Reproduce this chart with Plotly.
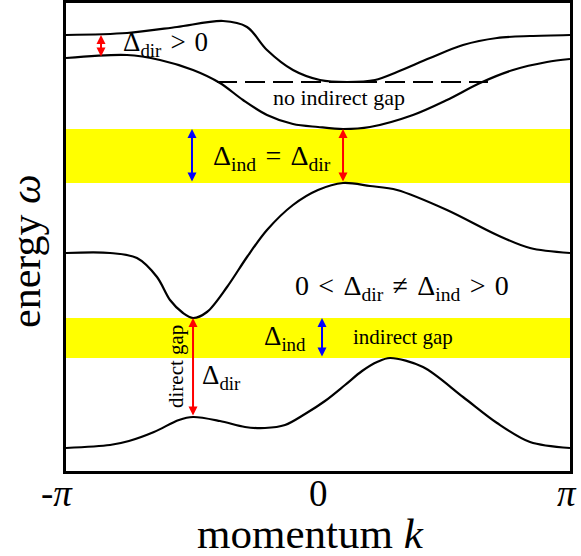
import numpy as np
import plotly.graph_objects as go

PI = np.pi

# ---- band data (momentum k, energy in arbitrary units) ----
k1 = [-3.1416, -2.381, -1.758, -1.184, -0.885, -0.636, -0.312, 0.025, 0.362, 0.711, 0.985, 1.396, 1.808, 2.232, 2.643, 3.1416]
e1 = [4.36, 4.38, 4.44, 4.50, 4.44, 4.21, 4.01, 3.91, 3.89, 3.91, 3.99, 4.13, 4.26, 4.33, 4.35, 4.36]

k2 = [-3.1416, -2.381, -1.970, -1.558, -1.222, -0.935, -0.636, -0.312, 0.0, 0.312, 0.648, 1.184, 1.608, 2.020, 2.431, 2.855, 3.1416]
e2 = [4.13, 4.16, 4.11, 4.01, 3.88, 3.71, 3.56, 3.47, 3.44, 3.42, 3.44, 3.56, 3.71, 3.88, 4.01, 4.09, 4.12]

k3 = [-3.1416, -2.593, -2.257, -2.007, -1.845, -1.683, -1.558, -1.384, -1.134, -0.885, -0.636, -0.312, 0.0, 0.312, 0.648, 0.985, 1.608, 2.232, 2.643, 3.1416]
e3 = [2.18, 2.18, 2.13, 1.94, 1.71, 1.58, 1.53, 1.59, 1.84, 2.14, 2.41, 2.66, 2.81, 2.88, 2.85, 2.81, 2.61, 2.36, 2.23, 2.18]

k4 = [-3.1416, -2.593, -2.357, -2.045, -1.733, -1.558, -1.222, -0.910, -0.661, -0.411, -0.162, 0.087, 0.337, 0.549, 0.736, 0.898, 1.309, 1.808, 2.232, 2.643, 3.1416]
e4 = [0.23, 0.26, 0.30, 0.39, 0.51, 0.54, 0.50, 0.44, 0.43, 0.46, 0.57, 0.70, 0.86, 1.00, 1.09, 1.13, 1.04, 0.74, 0.48, 0.29, 0.23]

# gap bands [low, high]
gap_band_1 = [2.88, 3.42]
gap_band_2 = [1.13, 1.53]

# dashed reference line (level of band-1 minimum)
dash_k = [-1.259, 2.119]
dash_e = [3.89, 3.89]

# arrows: (k, e_low, e_high, color)
arrows = [
    (-2.705, 4.13, 4.36, "#ff0000"),
    (-1.571, 2.88, 3.42, "#0000ff"),
    (0.312, 2.88, 3.42, "#ff0000"),
    (-1.558, 0.54, 1.53, "#ff0000"),
    (0.05, 1.13, 1.53, "#0000ff"),
]

tick_vals = [-PI, 0, PI]
tick_text = ["-<i>π</i>", "0", "<i>π</i>"]
tick_nudge = [-9, 0, -3]   # px shift of each tick label (as in the original)

FONT = "Liberation Serif"
SP = "\u2004"

fig = go.Figure()

for band in (gap_band_1, gap_band_2):
    fig.add_shape(type="rect", xref="x", yref="y", x0=-PI, x1=PI,
                  y0=band[0], y1=band[1], fillcolor="#ffff00",
                  line=dict(width=0), layer="below")

for kk, ee in ((k1, e1), (k2, e2), (k3, e3), (k4, e4)):
    fig.add_trace(go.Scatter(x=kk, y=ee, mode="lines",
                             line=dict(color="black", width=2.2, shape="spline", smoothing=0.9),
                             hoverinfo="skip", showlegend=False))

fig.add_trace(go.Scatter(x=dash_k, y=dash_e, mode="lines",
                         line=dict(color="black", width=2, dash="20px,8px"),
                         hoverinfo="skip", showlegend=False))

for (kx, lo, hi, col) in arrows:
    fig.add_annotation(x=kx, y=hi, ax=kx, ay=lo, xref="x", yref="y",
                       axref="x", ayref="y", text="", showarrow=True,
                       arrowhead=2, startarrowhead=2, arrowside="end+start",
                       arrowsize=0.9, startarrowsize=0.9, arrowwidth=2,
                       arrowcolor=col, standoff=0, startstandoff=0)

texts = [
    (-1.895, 4.27, f"Δ<sub>dir</sub>{SP}>{SP}0", 27, 0),
    (0.262, 3.74, "no indirect gap", 22, 0),
    (-0.573, 3.14, f"Δ<sub>ind</sub>{SP}={SP}Δ<sub>dir</sub>", 28, 0),
    (1.047, 1.84, f"0{SP}<{SP}Δ<sub>dir</sub>{SP}≠{SP}Δ<sub>ind</sub>{SP}>{SP}0", 28, 0),
    (-0.411, 1.33, "Δ<sub>ind</sub>", 27, 0),
    (1.06, 1.34, "indirect gap", 21, 0),
    (-1.770, 1.04, "direct gap", 21, -90),
    (-1.209, 0.94, "Δ<sub>dir</sub>", 27, 0),
]
for (tx, ty, t, s, rot) in texts:
    fig.add_annotation(x=tx, y=ty, xref="x", yref="y", text=t, showarrow=False,
                       xanchor="center", yanchor="middle",
                       font=dict(family=FONT, size=s, color="black"), textangle=rot)

# tick labels
for tv, tt, nd in zip(tick_vals, tick_text, tick_nudge):
    fig.add_annotation(x=tv, y=0, xref="x", yref="paper", yshift=-22, xshift=nd,
                       xanchor="center", yanchor="middle", text=tt, showarrow=False,
                       font=dict(family=FONT, size=37, color="black"))

# axis titles
fig.add_annotation(x=0.5, y=0, xref="paper", yref="paper", yshift=-62, xshift=-8,
                   xanchor="center", yanchor="middle",
                   text="momentum <i>k</i>", showarrow=False,
                   font=dict(family=FONT, size=43, color="black"))
fig.add_annotation(x=0, y=0.5, xref="paper", yref="paper", xshift=-40, yshift=-14,
                   xanchor="center", yanchor="middle",
                   text="energy <i>ω</i>", showarrow=False, textangle=-90,
                   font=dict(family=FONT, size=42, color="black"))

fig.update_layout(
    width=581, height=556,
    margin=dict(l=66, r=11, t=3, b=85, autoexpand=False),
    plot_bgcolor="white", paper_bgcolor="white",
    showlegend=False,
)
fig.update_xaxes(range=[-PI, PI], showticklabels=False,
                 showgrid=False, zeroline=False, showline=True, mirror=True,
                 linecolor="black", linewidth=3, ticks="", automargin=False)
fig.update_yaxes(range=[0, 4.68], showticklabels=False, showgrid=False,
                 zeroline=False, showline=True, mirror=True, automargin=False,
                 linecolor="black", linewidth=3, ticks="")

fig.write_html("out.html", config={"displayModeBar": False},
               post_script="document.body.style.margin='0';document.body.style.overflow='hidden';")
